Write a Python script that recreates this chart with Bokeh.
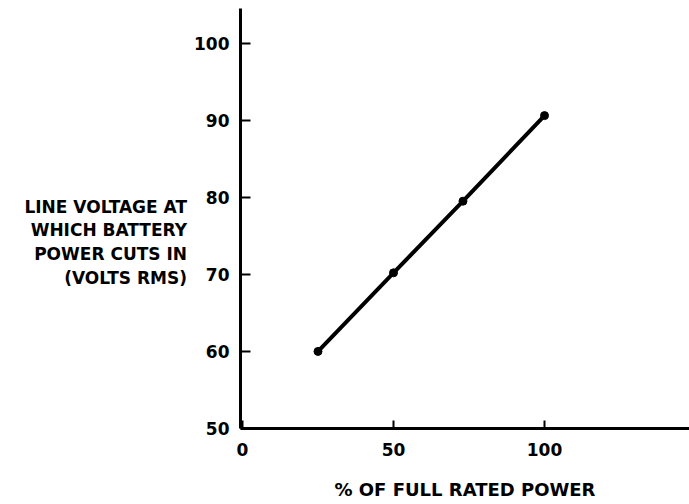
from bokeh.plotting import figure
from bokeh.models import Range1d, FixedTicker
from bokeh.embed import file_html
from bokeh.resources import INLINE

# Data
power_pct = [25, 50, 73, 100]
cut_in_volts = [60, 70.2, 79.5, 90.6]
x_ticks = [0, 50, 100]
y_ticks = [50, 60, 70, 80, 90, 100]
y_label_lines = ["LINE VOLTAGE AT", "WHICH BATTERY", "POWER CUTS IN", "(VOLTS RMS)"]
x_label = "% OF FULL RATED POWER"

FONT = "DejaVu Sans"
W, H = 689, 504

p = figure(width=W, height=H, output_backend="svg", toolbar_location=None,
           x_range=Range1d(-0.66, 148.0), y_range=Range1d(50, 104.5),
           min_border_left=240, min_border_right=0, min_border_top=8,
           min_border_bottom=76)
p.outline_line_color = None
p.grid.visible = False
p.background_fill_color = "white"
p.border_fill_color = "white"

for ax in (p.xaxis[0], p.yaxis[0]):
    ax.axis_line_width = 3
    ax.axis_line_color = "black"
    ax.major_tick_line_width = 2
    ax.major_tick_line_color = "black"
    ax.minor_tick_line_color = None
    ax.major_tick_out = 0
    ax.major_label_text_font = FONT
    ax.major_label_text_font_style = "bold"
    ax.major_label_text_font_size = "17px"
    ax.major_label_text_color = "black"
    ax.axis_label_text_font = FONT
    ax.axis_label_text_font_style = "bold"
    ax.axis_label_text_color = "black"

p.yaxis[0].ticker = FixedTicker(ticks=y_ticks)
p.yaxis[0].major_tick_in = 10
p.yaxis[0].major_label_standoff = 11
p.xaxis[0].ticker = FixedTicker(ticks=x_ticks)
p.xaxis[0].major_tick_in = 8
p.xaxis[0].major_label_standoff = 14

# y-axis title: horizontal multi-line block, right aligned
p.yaxis[0].axis_label = "\n\n" + "\n".join(y_label_lines)
p.yaxis[0].axis_label_orientation = "horizontal"
p.yaxis[0].axis_label_text_align = "right"
p.yaxis[0].axis_label_text_font_size = "17px"
p.yaxis[0].axis_label_text_line_height = 1.18
p.yaxis[0].axis_label_standoff = 4

p.xaxis[0].axis_label = x_label
p.xaxis[0].axis_label_text_font_size = "18px"
p.xaxis[0].axis_label_standoff = 20

p.line(power_pct, cut_in_volts, line_width=4, line_color="black")
p.scatter(power_pct, cut_in_volts, size=8, color="black")

open("out.html", "w").write(file_html(p, INLINE))
